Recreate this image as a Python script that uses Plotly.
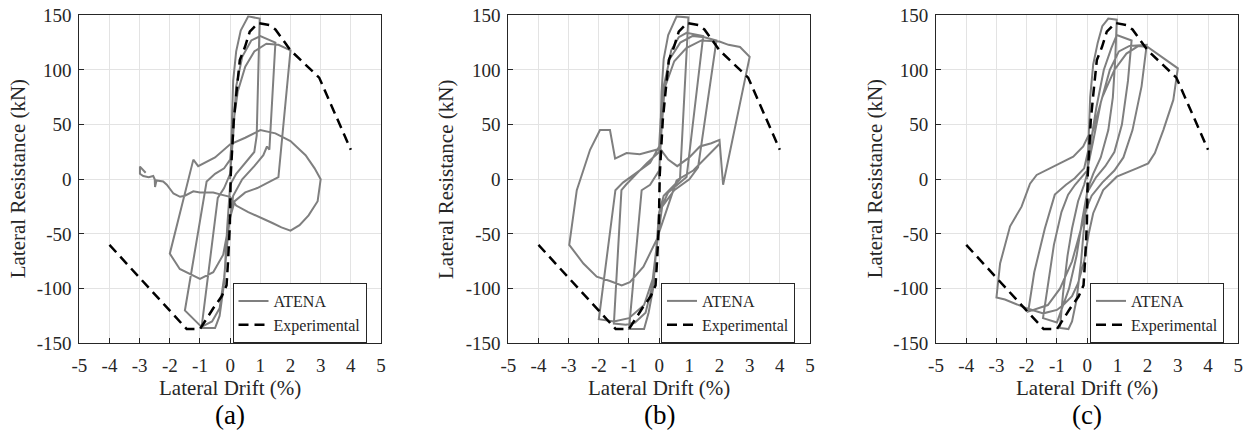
import plotly.graph_objects as go

# ---------------- data ----------------
x_ticks = [-5, -4, -3, -2, -1, 0, 1, 2, 3, 4, 5]
x_ticklabels = ["-5", "-4", "-3", "-2", "-1", "0", "1", "2", "3", "4", "5"]
y_ticks = [-150, -100, -50, 0, 50, 100, 150]
y_ticklabels = ["-150", "-100", "-50", "0", "50", "100", "150"]
panel_labels = ["(a)", "(b)", "(c)"]
series_names = ["ATENA", "Experimental"]

exp_drift = [-4, -1.44, -1.0, -0.84, -0.56, -0.28, -0.12, -0.07, -0.01, 0.02, 0.12, 0.23,
             0.32, 0.49, 0.65, 0.93, 1.3, 1.5, 2.0, 2.95, 4.0]
exp_force = [-60, -137, -137, -130, -118, -107, -97, -75, -42, 4, 54, 85,
             109, 121, 135, 143, 141, 137, 118, 93, 27]

atena_a_drift = [0, 0.04, 0.1, 0.2, 0.35, 0.6, 0.98,
                 0.93, 0.88, 0.8, 0.5, 0.2, 0, -0.1, -0.2, -0.35, -0.5, -0.95,
                 -0.41, -0.2, 0, 0.1, 0.2, 0.4, 0.7, 1.0, 1.5,
                 1.3, 1.22, 1.1, 0.8, 0.4, 0.1, -0.05, -0.2, -0.35, -0.6, -0.95, -1.5,
                 -0.78, -0.5, -0.2, 0, 0.1, 0.25, 0.5, 0.8, 1.2, 1.6, 2.0,
                 1.6, 1.3, 0.9, 0.5, 0.15, 0, -0.07, -0.23, -0.56, -1.0, -1.67, -2.0,
                 -1.22, -1.06, -0.5, 0, 0.5, 1.0, 1.5, 2.0, 2.5, 2.8, 3.0,
                 2.9, 2.6, 2.3, 2.0, 1.7, 1.4, 1.0, 0.6, 0.2, 0, -0.3, -0.56, -1.0, -1.22,
                 -1.5, -1.66, -1.88, -2.1, -2.22, -2.44, -2.49, -2.5, -2.55, -2.7, -2.88,
                 -2.99, -2.99, -2.9, -2.8]
atena_a_force = [0, 45, 90, 117, 136, 149, 147,
                 95, 40, 25, 15, 5, -5, -45, -95, -125, -136, -136,
                 -17, -8, 5, 40, 85, 112, 127, 131, 125,
                 27, 30, 22, 12, 0, -15, -45, -90, -118, -130, -135, -120,
                 -2, 5, 10, 18, 50, 80, 103, 117, 124, 123, 118,
                 2, -2, -8, -12, -20, -35, -45, -69, -85, -91, -82, -68,
                 18, 12, 20, 32, 38, 45, 42, 35, 22, 10, 0,
                 -20, -33, -42, -47, -44, -40, -35, -30, -24, -16, -14, -12, -12, -11,
                 -15, -16, -13, -5, -2, -1, -7, 0, 3, 2, 3,
                 5, 11.6, 9, 6]

atena_b_drift = [0, 0.03, 0.08, 0.15, 0.3, 0.58, 0.97,
                 0.69, 0.4, 0.15, 0, -0.1, -0.2, -0.35, -0.5, -1.0,
                 -0.58, -0.3, 0, 0.08, 0.2, 0.4, 0.65, 0.91, 1.46,
                 0.91, 0.6, 0.3, 0, -0.1, -0.25, -0.45, -0.8, -1.1, -1.5,
                 -1.25, -1.1, -0.75, -0.4, 0, 0.05, 0.15, 0.35, 0.7, 1.1, 1.5, 1.9,
                 1.29, 1.0, 0.5, 0.1, -0.05, -0.2, -0.5, -1.0, -1.5, -2.0,
                 -1.45, -1.2, -0.8, -0.3, 0, 0.05, 0.2, 0.5, 0.9, 1.4, 2.0, 2.3, 2.68, 3.0,
                 2.12, 2.05, 2.0, 1.73, 1.35, 1.0, 0.6, 0.3, 0.03, -0.64, -1.08, -1.46,
                 -1.63, -1.96, -2.29, -2.73, -2.98, -2.51, -2.07, -1.63, -1.24, -0.97,
                 -0.52, -0.08, 0.3, 0.58, 1.13, 1.68, 2.02]
atena_b_force = [0, 40, 80, 110, 132, 149, 148,
                 0, -8, -15, -30, -70, -100, -122, -137, -137,
                 -10, -5, 8, 45, 90, 118, 130, 134, 131,
                 2, -5, -12, -30, -65, -100, -122, -131, -133, -132,
                 -10, -5, 5, 15, 25, 50, 85, 110, 125, 131, 130, 127,
                 11, 0, -10, -25, -55, -90, -115, -127, -130, -128,
                 -10, -3, 5, 15, 30, 55, 85, 108, 120, 127, 126, 123, 121, 112,
                 -5, 20, 36, 33, 30, 20, 12, 18, 28, 23, 24, 19,
                 45, 45, 27, -10, -60, -77, -89, -93, -97, -94,
                 -80, -55, -25, -1, 8, 24, 33]

atena_c_drift = [0, 0.05, 0.1, 0.2, 0.35, 0.5, 0.7, 0.98,
                 0.93, 0.85, 0.7, 0.45, 0.2, 0, -0.1, -0.2, -0.35, -0.5, -0.62, -0.9,
                 -0.8, -0.65, -0.5, -0.3, -0.1, 0, 0.1, 0.3, 0.55, 0.8, 0.98, 1.47,
                 1.35, 1.15, 0.9, 0.6, 0.3, 0, -0.15, -0.35, -0.6, -0.85, -1.0, -1.46,
                 -1.3, -1.1, -0.85, -0.63, -0.4, 0, 0.2, 0.45, 0.75, 1.05, 1.4, 1.97,
                 1.8, 1.5, 1.2, 0.9, 0.5, 0.15, 0, -0.2, -0.5, -0.9, -1.3, -1.95,
                 -1.75, -1.4, -1.07, -0.7, -0.41, -0.1, 0.15, 0.5, 0.9, 1.3, 1.7, 2.0, 3.0,
                 2.85, 2.52, 2.24, 2.02, 1.64, 0.98, 0.53, 0.2, 0.05, -0.1, -0.3, -0.5,
                 -0.79, -1.0, -1.45, -2.0, -2.72, -3.0,
                 -2.88, -2.55, -2.17, -1.89, -1.67, -1.34, -0.9, -0.46, -0.13, 0.04]
atena_c_force = [0, 40, 75, 105, 125, 140, 147, 146,
                 110, 75, 45, 20, 5, -10, -40, -75, -110, -130, -137, -136,
                 -105, -70, -45, -20, -5, 5, 30, 65, 100, 120, 132, 127,
                 90, 50, 25, 12, 2, -12, -35, -70, -100, -120, -131, -127,
                 -95, -60, -30, -14, -5, 8, 35, 70, 100, 117, 122, 123,
                 85, 45, 20, 8, -3, -15, -25, -45, -75, -100, -115, -121,
                 -85, -45, -14, -5, 1, 10, 40, 75, 100, 115, 122, 121, 101.5,
                 72.6, 45, 24, 14.6, 10, 2.4, -9.8, -31, -50, -75, -95, -107,
                 -115, -119.5, -122.6, -118, -110, -108,
                 -77, -43, -25, -4, 4, 8.5, 14.6, 20.7, 30, 40]

atena_drifts = [atena_a_drift, atena_b_drift, atena_c_drift]
atena_forces = [atena_a_force, atena_b_force, atena_c_force]

# ---------------- layout constants (page pixels) ----------------
W, H = 1246, 432
x_px = [(79.3, 381.0), (508.3, 810.0), (936.0, 1238.3)]
y_px = (15.3, 343.3)
ytitle_px = [18, 446.7, 875]
legend_px = [232.5, 661.0, 1090.0]
FONT = "Liberation Serif, Times New Roman, Times, serif"
GRAY = "#7f7f7f"
TXT = "#262626"


def px_x(p):
    return p / W


def px_y(p):
    return 1 - p / H


fig = go.Figure()
for i in range(3):
    sfx = "" if i == 0 else str(i + 1)
    leg = "legend" + sfx
    fig.add_trace(go.Scatter(x=atena_drifts[i], y=atena_forces[i], mode="lines",
                             name=series_names[0], line=dict(color=GRAY, width=2),
                             xaxis="x" + sfx, yaxis="y" + sfx, legend=leg))
    fig.add_trace(go.Scatter(x=exp_drift, y=exp_force, mode="lines",
                             name=series_names[1],
                             line=dict(color="black", width=2.5, dash="10px,6px"),
                             xaxis="x" + sfx, yaxis="y" + sfx, legend=leg))

layout = dict(width=W, height=H, margin=dict(l=0, r=0, t=0, b=0),
              paper_bgcolor="white", plot_bgcolor="white",
              font=dict(family=FONT, size=19, color=TXT),
              annotations=[])
axis_common = dict(showline=True, linecolor=TXT, linewidth=1, mirror=True,
                   ticks="inside", ticklen=5, tickcolor=TXT,
                   showgrid=True, gridcolor="#e3e3e3", gridwidth=1,
                   zeroline=False, automargin=False, ticklabeloverflow="allow",
                   tickfont=dict(family=FONT, size=19, color=TXT))
for i in range(3):
    sfx = "" if i == 0 else str(i + 1)
    x0, x1 = x_px[i]
    layout["xaxis" + sfx] = dict(axis_common, domain=[px_x(x0), px_x(x1)], range=[-5, 5],
                                 tickvals=x_ticks, ticktext=x_ticklabels,
                                 ticklabelstandoff=5, anchor="y" + sfx)
    layout["yaxis" + sfx] = dict(axis_common, domain=[px_y(y_px[1]), px_y(y_px[0])],
                                 range=[-150, 150], tickvals=y_ticks,
                                 ticktext=y_ticklabels, ticklabelstandoff=3,
                                 anchor="x" + sfx)
    layout["legend" if i == 0 else "legend" + str(i + 1)] = dict(
        x=px_x(legend_px[i]), y=px_y(283), xanchor="left", yanchor="top",
        bgcolor="white", bordercolor=TXT, borderwidth=1,
        font=dict(family=FONT, size=16, color=TXT),
        itemwidth=30, tracegroupgap=0)
    cx = px_x((x0 + x1) / 2)
    layout["annotations"] += [
        dict(text="Lateral Drift (%)", x=cx, y=px_y(388), xref="paper", yref="paper",
             xanchor="center", yanchor="middle", showarrow=False,
             font=dict(family=FONT, size=21, color=TXT)),
        dict(text="Lateral Resistance (kN)", x=px_x(ytitle_px[i]),
             y=px_y((y_px[0] + y_px[1]) / 2), xref="paper", yref="paper",
             xanchor="center", yanchor="middle", textangle=-90, showarrow=False,
             font=dict(family=FONT, size=21, color=TXT)),
        dict(text=panel_labels[i], x=cx, y=px_y(415), xref="paper", yref="paper",
             xanchor="center", yanchor="middle", showarrow=False,
             font=dict(family=FONT, size=27, color="black")),
    ]
fig.update_layout(**layout)
fig.write_html("out.html", config={"displayModeBar": False},
               post_script="document.body.style.margin='0px';")
